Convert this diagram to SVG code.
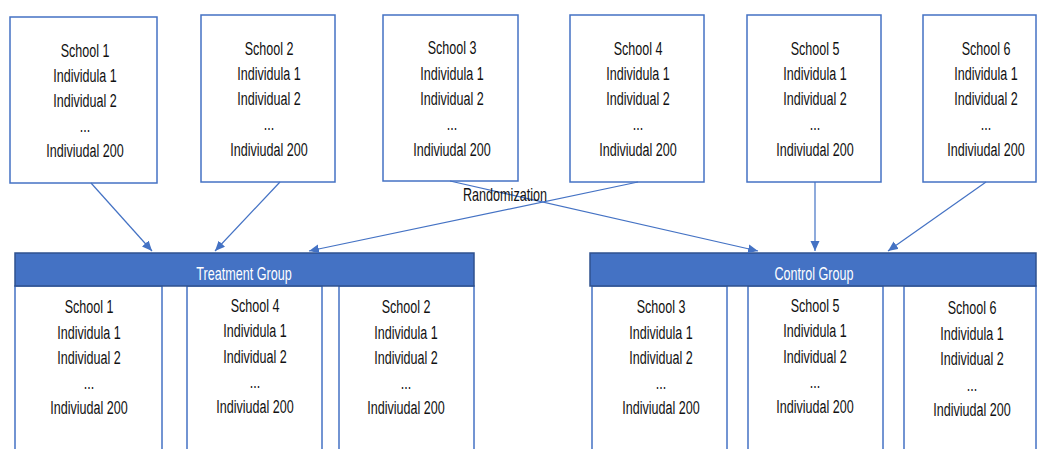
<svg xmlns="http://www.w3.org/2000/svg" width="1037" height="449" viewBox="0 0 1037 449">
  <style>
    .box { fill: #ffffff; stroke: #4472C4; stroke-width: 1.5; }
    .hdr { fill: #4472C4; stroke: #2F528F; stroke-width: 1.5; }
    .t { font-family: "Liberation Sans", Arial, sans-serif; font-size: 19px; fill: #111111; text-anchor: middle; }
    .h { font-family: "Liberation Sans", Arial, sans-serif; font-size: 18px; fill: #ffffff; text-anchor: middle; }
    .lbl { font-family: "Liberation Sans", Arial, sans-serif; font-size: 18px; fill: #111111; text-anchor: middle; }
    .conn { stroke: #4472C4; stroke-width: 1.2; fill: none; marker-end: url(#arrow); }
  </style>
  <defs>
    <marker id="arrow" markerUnits="userSpaceOnUse" markerWidth="11" markerHeight="10" refX="10" refY="4.5" orient="auto">
      <path d="M0,0 L10,4.5 L0,9 z" fill="#4472C4"/>
    </marker>
  </defs>
  <rect width="1037" height="449" fill="#ffffff"/>

  <!-- source schools; text blocks use a narrow horizontal scale -->
  <g id="school1">
    <rect class="box" x="10" y="17" width="147" height="166"/>
    <g transform="translate(85,0) scale(0.66,1)">
      <text class="t" x="0" y="57">School 1</text>
      <text class="t" x="0" y="82">Individula 1</text>
      <text class="t" x="0" y="107">Individual 2</text>
      <text class="t" x="0" y="132">...</text>
      <text class="t" x="0" y="157">Indiviudal 200</text>
    </g>
  </g>
  <g id="school2">
    <rect class="box" x="201" y="15" width="134" height="167"/>
    <g transform="translate(269,0) scale(0.66,1)">
      <text class="t" x="0" y="55">School 2</text>
      <text class="t" x="0" y="80">Individula 1</text>
      <text class="t" x="0" y="105">Individual 2</text>
      <text class="t" x="0" y="130">...</text>
      <text class="t" x="0" y="156">Indiviudal 200</text>
    </g>
  </g>
  <g id="school3">
    <rect class="box" x="383" y="15" width="135" height="166"/>
    <g transform="translate(452,0) scale(0.66,1)">
      <text class="t" x="0" y="54">School 3</text>
      <text class="t" x="0" y="80">Individula 1</text>
      <text class="t" x="0" y="105">Individual 2</text>
      <text class="t" x="0" y="130">...</text>
      <text class="t" x="0" y="156">Indiviudal 200</text>
    </g>
  </g>
  <g id="school4">
    <rect class="box" x="570" y="15" width="134" height="167"/>
    <g transform="translate(638,0) scale(0.66,1)">
      <text class="t" x="0" y="55">School 4</text>
      <text class="t" x="0" y="80">Individula 1</text>
      <text class="t" x="0" y="105">Individual 2</text>
      <text class="t" x="0" y="130">...</text>
      <text class="t" x="0" y="156">Indiviudal 200</text>
    </g>
  </g>
  <g id="school5">
    <rect class="box" x="747" y="15" width="134" height="167"/>
    <g transform="translate(815,0) scale(0.66,1)">
      <text class="t" x="0" y="55">School 5</text>
      <text class="t" x="0" y="80">Individula 1</text>
      <text class="t" x="0" y="105">Individual 2</text>
      <text class="t" x="0" y="130">...</text>
      <text class="t" x="0" y="156">Indiviudal 200</text>
    </g>
  </g>
  <g id="school6">
    <rect class="box" x="923" y="15" width="113" height="167"/>
    <g transform="translate(986,0) scale(0.66,1)">
      <text class="t" x="0" y="55">School 6</text>
      <text class="t" x="0" y="80">Individula 1</text>
      <text class="t" x="0" y="105">Individual 2</text>
      <text class="t" x="0" y="130">...</text>
      <text class="t" x="0" y="156">Indiviudal 200</text>
    </g>
  </g>

  <!-- treatment group -->
  <g id="treatment">
    <rect class="box" x="15" y="286" width="147" height="180"/>
    <rect class="box" x="187" y="286" width="135" height="180"/>
    <rect class="box" x="339" y="286" width="135" height="180"/>
    <rect class="hdr" x="15" y="253" width="459" height="33"/>
    <g transform="translate(244,0) scale(0.7,1)">
      <text class="h" x="0" y="280">Treatment Group</text>
    </g>
    <g transform="translate(89,0) scale(0.66,1)">
      <text class="t" x="0" y="313">School 1</text>
      <text class="t" x="0" y="339">Individula 1</text>
      <text class="t" x="0" y="364">Individual 2</text>
      <text class="t" x="0" y="389">...</text>
      <text class="t" x="0" y="414">Indiviudal 200</text>
    </g>
    <g transform="translate(255,0) scale(0.66,1)">
      <text class="t" x="0" y="312">School 4</text>
      <text class="t" x="0" y="337">Individula 1</text>
      <text class="t" x="0" y="363">Individual 2</text>
      <text class="t" x="0" y="388">...</text>
      <text class="t" x="0" y="413">Indiviudal 200</text>
    </g>
    <g transform="translate(406,0) scale(0.66,1)">
      <text class="t" x="0" y="313">School 2</text>
      <text class="t" x="0" y="339">Individula 1</text>
      <text class="t" x="0" y="364">Individual 2</text>
      <text class="t" x="0" y="389">...</text>
      <text class="t" x="0" y="414">Indiviudal 200</text>
    </g>
  </g>

  <!-- control group -->
  <g id="control">
    <rect class="box" x="592" y="286" width="135" height="180"/>
    <rect class="box" x="748" y="286" width="135" height="180"/>
    <rect class="box" x="904" y="286" width="132" height="180"/>
    <rect class="hdr" x="590" y="253" width="446" height="33"/>
    <g transform="translate(814,0) scale(0.7,1)">
      <text class="h" x="0" y="280">Control Group</text>
    </g>
    <g transform="translate(661,0) scale(0.66,1)">
      <text class="t" x="0" y="313">School 3</text>
      <text class="t" x="0" y="339">Individula 1</text>
      <text class="t" x="0" y="364">Individual 2</text>
      <text class="t" x="0" y="389">...</text>
      <text class="t" x="0" y="414">Indiviudal 200</text>
    </g>
    <g transform="translate(815,0) scale(0.66,1)">
      <text class="t" x="0" y="312">School 5</text>
      <text class="t" x="0" y="337">Individula 1</text>
      <text class="t" x="0" y="363">Individual 2</text>
      <text class="t" x="0" y="388">...</text>
      <text class="t" x="0" y="413">Indiviudal 200</text>
    </g>
    <g transform="translate(972,0) scale(0.66,1)">
      <text class="t" x="0" y="314">School 6</text>
      <text class="t" x="0" y="340">Individula 1</text>
      <text class="t" x="0" y="365">Individual 2</text>
      <text class="t" x="0" y="391">...</text>
      <text class="t" x="0" y="416">Indiviudal 200</text>
    </g>
  </g>

  <!-- assignment connectors -->
  <g id="connectors">
    <line class="conn" x1="91" y1="183" x2="152" y2="251"/>
    <line class="conn" x1="280" y1="182" x2="215" y2="251"/>
    <line class="conn" x1="638" y1="182" x2="309" y2="251"/>
    <line class="conn" x1="450" y1="181" x2="758" y2="251"/>
    <line class="conn" x1="815" y1="182" x2="815" y2="251"/>
    <line class="conn" x1="986" y1="182" x2="888" y2="251"/>
    <g transform="translate(505,0) scale(0.7,1)">
      <text class="lbl" x="0" y="201">Randomization</text>
    </g>
  </g>
</svg>
